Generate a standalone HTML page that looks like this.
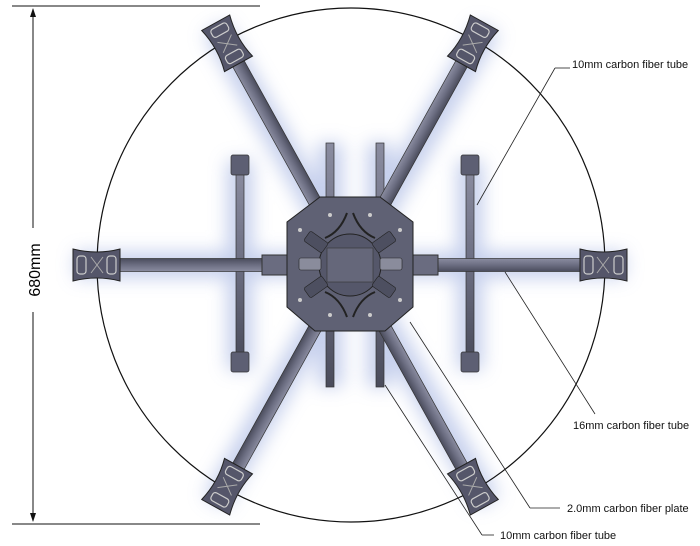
<!DOCTYPE html>
<html><head><style>body{margin:0;background:#fff}svg{display:block}text{font-family:"Liberation Sans",sans-serif}</style></head>
<body>
<svg width="700" height="546" viewBox="0 0 700 546" xmlns="http://www.w3.org/2000/svg">
<defs>
<filter id="glow" x="-20%" y="-20%" width="140%" height="140%"><feGaussianBlur stdDeviation="9"/></filter>
<linearGradient id="tube" x1="0" y1="0" x2="0" y2="1"><stop offset="0" stop-color="#8a8ca0"/><stop offset="0.5" stop-color="#6c6e82"/><stop offset="1" stop-color="#4a4c5c"/></linearGradient>
<g id="arm">
 <rect x="0" y="-6.5" width="240" height="13" fill="url(#tube)" stroke="#333" stroke-width="0.7"/>
 <path d="M230,-16 Q253,-10 277,-16 L277,16 Q253,10 230,16 Z" fill="#55566a" stroke="#222" stroke-width="1"/>
 <rect x="234" y="-9" width="9" height="18" rx="3" fill="none" stroke="#ccc" stroke-width="1.2"/>
 <rect x="264" y="-9" width="9" height="18" rx="3" fill="none" stroke="#ccc" stroke-width="1.2"/>
 <path d="M247,-8 L259,8 M247,8 L259,-8" stroke="#aaa" stroke-width="1"/>
</g>
</defs>
<g filter="url(#glow)" stroke="#b8c4e8" stroke-width="26" opacity="0.8">
 <line x1="350" y1="265" x2="215" y2="28"/><line x1="350" y1="265" x2="488" y2="28"/>
 <line x1="350" y1="265" x2="75" y2="265"/><line x1="350" y1="265" x2="625" y2="265"/>
 <line x1="350" y1="265" x2="215" y2="502"/><line x1="350" y1="265" x2="488" y2="502"/>
 <line x1="240" y1="160" x2="240" y2="370"/><line x1="470" y1="160" x2="470" y2="370"/>
 <line x1="330" y1="143" x2="330" y2="387"/><line x1="380" y1="143" x2="380" y2="387"/>
</g>
<ellipse cx="351" cy="265" rx="254" ry="257" fill="none" stroke="#111" stroke-width="1.2"/>
<line x1="12" y1="6" x2="260" y2="6" stroke="#111" stroke-width="1"/>
<line x1="12" y1="524" x2="260" y2="524" stroke="#111" stroke-width="1"/>
<line x1="33" y1="9" x2="33" y2="228" stroke="#111"/><line x1="33" y1="312" x2="33" y2="521" stroke="#111"/>
<path d="M33,8 l-3,9 h6z M33,522 l-3,-9 h6z" fill="#111"/>
<text x="0" y="0" transform="translate(40,270) rotate(-90)" font-size="16" text-anchor="middle">680mm</text>
<g fill="url(#tube)" stroke="#333" stroke-width="0.7">
 <rect x="236" y="170" width="8" height="190"/><rect x="466" y="170" width="8" height="190"/>
 <rect x="231" y="155" width="18" height="20" rx="2" fill="#5d5f73"/><rect x="231" y="352" width="18" height="20" rx="2" fill="#5d5f73"/>
 <rect x="461" y="155" width="18" height="20" rx="2" fill="#5d5f73"/><rect x="461" y="352" width="18" height="20" rx="2" fill="#5d5f73"/>
 <rect x="326" y="143" width="8" height="244"/><rect x="376" y="143" width="8" height="244"/>
</g>
<use href="#arm" transform="translate(350,265) rotate(180)"/>
<use href="#arm" transform="translate(350,265)"/>
<use href="#arm" transform="translate(350,265) rotate(-119)"/>
<use href="#arm" transform="translate(350,265) rotate(-61)"/>
<use href="#arm" transform="translate(350,265) rotate(119)"/>
<use href="#arm" transform="translate(350,265) rotate(61)"/>
<rect x="262" y="255" width="26" height="20" fill="#6a6c80" stroke="#333"/><rect x="412" y="255" width="26" height="20" fill="#6a6c80" stroke="#333"/>
<path d="M320,197 L380,197 L413,222 L413,307 L385,331 L315,331 L287,307 L287,222 Z" fill="#5f6174" stroke="#222" stroke-width="1"/>
<circle cx="350" cy="265" r="31" fill="#55576a" stroke="#222"/>
<rect x="327" y="248" width="46" height="34" fill="#65677a" stroke="#333" stroke-width="0.6"/>
<g fill="#4d4f60" stroke="#222" stroke-width="0.6">
<rect x="299" y="258" width="22" height="12" rx="2" fill="#8a8c9c"/><rect x="380" y="258" width="22" height="12" rx="2" fill="#8a8c9c"/>
<rect x="305" y="236" width="22" height="12" rx="2" transform="rotate(35 316 242)"/><rect x="373" y="236" width="22" height="12" rx="2" transform="rotate(-35 384 242)"/>
<rect x="305" y="281" width="22" height="12" rx="2" transform="rotate(-35 316 287)"/><rect x="373" y="281" width="22" height="12" rx="2" transform="rotate(35 384 287)"/>
</g>
<g fill="none" stroke="#222" stroke-width="2">
<path d="M347,213 Q340,232 325,238"/><path d="M353,213 Q360,232 375,238"/>
<path d="M347,317 Q340,298 325,292"/><path d="M353,317 Q360,298 375,292"/>
</g>
<g fill="#ccc"><circle cx="330" cy="215" r="2"/><circle cx="370" cy="215" r="2"/><circle cx="330" cy="315" r="2"/><circle cx="370" cy="315" r="2"/><circle cx="300" cy="230" r="2"/><circle cx="400" cy="230" r="2"/><circle cx="300" cy="300" r="2"/><circle cx="400" cy="300" r="2"/></g>
<g stroke="#222" stroke-width="0.8">
<line x1="477" y1="205" x2="555" y2="68"/><line x1="555" y1="68" x2="570" y2="68"/>
<line x1="505" y1="272" x2="595" y2="414"/>
<line x1="410" y1="322" x2="530" y2="508"/><line x1="530" y1="508" x2="560" y2="508"/>
<line x1="385" y1="385" x2="482" y2="535"/><line x1="482" y1="535" x2="494" y2="535"/>
</g>
<g font-size="11" fill="#111">
<text x="572" y="68">10mm carbon fiber tube</text>
<text x="573" y="429">16mm carbon fiber tube</text>
<text x="567" y="512">2.0mm carbon fiber plate</text>
<text x="500" y="539">10mm carbon fiber tube</text>
</g>
</svg>
</body></html>
